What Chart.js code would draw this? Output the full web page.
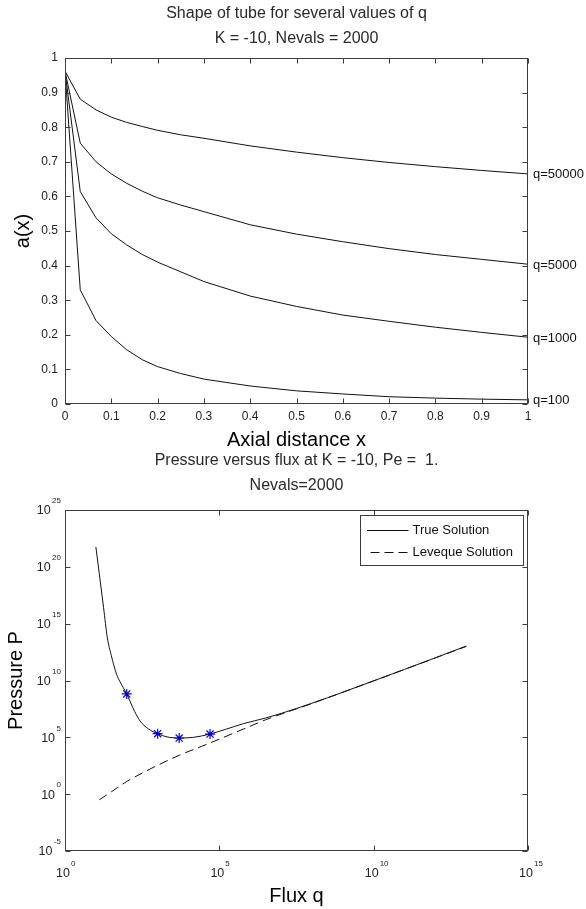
<!DOCTYPE html>
<html><head><meta charset="utf-8">
<script src="https://cdn.jsdelivr.net/npm/chart.js@4"></script>
<style>
html,body{margin:0;padding:0;background:#fff;}
#wrap{position:relative;width:586px;height:909px;overflow:hidden;background:#fff;}
canvas{position:absolute;left:0;top:0;}
</style></head><body>
<div id="wrap"><canvas id="c1" width="586" height="909"></canvas><canvas id="c2" width="586" height="909"></canvas></div>
<script>
// ---------- Top chart: shape of tube ----------
const axialX      = [0, 0.033, 0.067, 0.1, 0.133, 0.167, 0.2, 0.25, 0.3, 0.4, 0.5, 0.6, 0.7, 0.8, 0.9, 1.0];
const shapeQ50000 = [0.962, 0.881, 0.850, 0.829, 0.814, 0.802, 0.791, 0.778, 0.768, 0.746, 0.728, 0.712, 0.698, 0.686, 0.675, 0.665];
const shapeQ5000  = [0.962, 0.754, 0.700, 0.665, 0.638, 0.615, 0.596, 0.575, 0.556, 0.518, 0.491, 0.469, 0.449, 0.432, 0.418, 0.404];
const shapeQ1000  = [0.962, 0.614, 0.538, 0.492, 0.460, 0.432, 0.410, 0.382, 0.354, 0.312, 0.282, 0.257, 0.239, 0.222, 0.207, 0.193];
const shapeQ100   = [0.962, 0.330, 0.241, 0.195, 0.157, 0.128, 0.108, 0.088, 0.072, 0.052, 0.038, 0.029, 0.021, 0.017, 0.014, 0.012];
const shapeNames  = ['q=50000', 'q=5000', 'q=1000', 'q=100'];
const axialTicks      = [0, 0.1, 0.2, 0.3, 0.4, 0.5, 0.6, 0.7, 0.8, 0.9, 1];
const axialTickLabels = ['0', '0.1', '0.2', '0.3', '0.4', '0.5', '0.6', '0.7', '0.8', '0.9', '1'];
const radiusTicks      = [0, 0.1, 0.2, 0.3, 0.4, 0.5, 0.6, 0.7, 0.8, 0.9, 1];
const radiusTickLabels = ['0', '0.1', '0.2', '0.3', '0.4', '0.5', '0.6', '0.7', '0.8', '0.9', '1'];

// ---------- Bottom chart: pressure versus flux ----------
const fluxTrue     = [1.0e1, 1.29e1, 1.78e1, 2.34e1, 3.16e1, 4.68e1, 6.03e1, 1.0e2, 1.58e2, 2.69e2, 5.01e2, 1.0e3, 2.0e3, 5.0e3, 1.45e4, 5.0e4, 1.58e5, 6.03e5, 3.16e6, 1.0e7, 1.0e8, 1.0e9, 1.0e10, 1.0e11, 1.0e12, 1.0e13];
const pressureTrue = [5.6e21, 2.5e19, 2.5e16, 6.3e13, 1.6e12, 3.5e10, 7.9e9, 6.6e8, 4.0e7, 2.8e6, 5.6e5, 2.1e5, 1.1e5, 8.7e4, 1.0e5, 1.95e5, 5.0e5, 1.6e6, 5.0e6, 1.26e7, 1.0e8, 9.3e8, 9.3e9, 9.5e10, 1.0e12, 1.07e13];
const fluxLeveque     = [1.29e1, 3.16e1, 1.0e2, 3.16e2, 1.0e3, 5.0e3, 5.0e4, 6.3e5, 3.16e6, 1.0e8, 1.0e10, 1.0e13];
const pressureLeveque = [3.2e-1, 1.6e0, 1.3e1, 7.1e1, 3.5e2, 2.6e3, 3.2e4, 5.6e5, 3.5e6, 9.5e7, 9.3e9, 1.0e13];
const fluxMarked     = [1.0e2, 1.0e3, 5.0e3, 5.0e4];
const pressureMarked = [6.6e8, 2.1e5, 8.7e4, 1.95e5];
const fluxTicks        = [1e0, 1e5, 1e10, 1e15];
const fluxTickExps     = ['0', '5', '10', '15'];
const pressureTicks    = [1e-5, 1e0, 1e5, 1e10, 1e15, 1e20, 1e25];
const pressureTickExps = ['-5', '0', '5', '10', '15', '20', '25'];

const FONT = '"Liberation Sans", Arial, Helvetica, sans-serif';
Chart.defaults.font.family = FONT;
Chart.defaults.color = '#222';

function boxPlugin(tickLen) {
  return {
    id: 'matlabBox',
    afterDatasetsDraw(chart) {
      const {ctx, chartArea: a, scales: {x, y}} = chart;
      const L = Math.round(a.left) + 0.5, R = Math.round(a.right) - 0.5;
      const T = Math.round(a.top) + 0.5, B = Math.round(a.bottom) - 0.5;
      ctx.save();
      ctx.strokeStyle = '#3c3c3c';
      ctx.lineWidth = 1;
      ctx.beginPath();
      x.ticks.forEach(t => {
        const px = Math.round(x.getPixelForValue(t.value)) + 0.5;
        ctx.moveTo(px, B); ctx.lineTo(px, B - tickLen);
        ctx.moveTo(px, T); ctx.lineTo(px, T + tickLen);
      });
      y.ticks.forEach(t => {
        const py = Math.round(y.getPixelForValue(t.value)) + 0.5;
        ctx.moveTo(L, py); ctx.lineTo(L + tickLen, py);
        ctx.moveTo(R, py); ctx.lineTo(R - tickLen, py);
      });
      ctx.stroke();
      ctx.strokeRect(L, T, R - L, B - T);
      ctx.restore();
    }
  };
}

const endLabels = {
  id: 'endLabels',
  afterDatasetsDraw(chart) {
    const {ctx, scales: {x, y}} = chart;
    ctx.save();
    ctx.font = '13px ' + FONT;
    ctx.fillStyle = '#111';
    ctx.textAlign = 'left';
    ctx.textBaseline = 'middle';
    chart.data.datasets.forEach(ds => {
      const last = ds.data[ds.data.length - 1];
      ctx.fillText(ds.label, x.getPixelForValue(last.x) + 5, y.getPixelForValue(last.y) + 1);
    });
    ctx.restore();
  }
};

const shapeSeries = [shapeQ50000, shapeQ5000, shapeQ1000, shapeQ100];
new Chart(document.getElementById('c1'), {
  type: 'line',
  data: {
    datasets: shapeSeries.map((s, i) => ({
      label: shapeNames[i],
      data: axialX.map((xv, j) => ({x: xv, y: s[j]})),
      borderColor: '#111',
      borderWidth: 1,
      pointRadius: 0,
      tension: 0,
      fill: false
    }))
  },
  options: {
    responsive: false, animation: false, devicePixelRatio: 1,
    layout: {padding: {top: 0, left: 0, right: 58, bottom: 457}},
    plugins: {
      legend: {display: false}, tooltip: {enabled: false},
      title: {display: true, fullSize: false, text: ['Shape of tube for several values of q', 'K = -10, Nevals = 2000'],
        font: {size: 16, weight: 'normal', lineHeight: '25px'}, color: '#2a2a2a', padding: {top: 1.5, bottom: 6.5}}
    },
    scales: {
      x: {
        type: 'linear', min: 0, max: 1,
        afterBuildTicks: s => { s.ticks = axialTicks.map(v => ({value: v})); },
        afterFit: s => { s.height = 48; },
        grid: {display: false, drawTicks: false}, border: {display: false},
        ticks: {callback: (v, i) => axialTickLabels[i], font: {size: 12}, padding: 5, maxRotation: 0, autoSkip: false, color: '#222'},
        title: {display: true, text: 'Axial distance x', font: {size: 20}, color: '#000', padding: {top: 0, bottom: 0}}
      },
      y: {
        type: 'linear', min: 0, max: 1,
        afterBuildTicks: s => { s.ticks = radiusTicks.map(v => ({value: v})); },
        afterFit: s => { s.width = 65; },
        grid: {display: false, drawTicks: false}, border: {display: false},
        ticks: {callback: (v, i) => radiusTickLabels[i], font: {size: 12}, padding: 7, autoSkip: false, color: '#222'},
        title: {display: true, text: 'a(x)', font: {size: 20}, color: '#000', padding: {top: 11, bottom: 0}}
      }
    }
  },
  plugins: [boxPlugin(5), endLabels]
});

const logLabels = {
  id: 'logLabels',
  afterDraw(chart) {
    const {ctx, scales: {x, y}} = chart;
    ctx.save();
    ctx.fillStyle = '#222';
    ctx.textBaseline = 'middle';
    x.ticks.forEach((t, i) => {
      const px = x.getPixelForValue(t.value);
      ctx.font = '12.5px ' + FONT; ctx.textAlign = 'center';
      ctx.fillText('10', px - 2, x.top + 23);
      ctx.font = '8px ' + FONT; ctx.textAlign = 'left';
      ctx.fillText(fluxTickExps[i], px + 6, x.top + 13);
    });
    y.ticks.forEach((t, i) => {
      const py = y.getPixelForValue(t.value);
      const right = y.right - 4;
      ctx.font = '8px ' + FONT; ctx.textAlign = 'right';
      const ew = ctx.measureText(pressureTickExps[i]).width;
      ctx.fillText(pressureTickExps[i], right, py - 9);
      ctx.font = '12.5px ' + FONT;
      ctx.fillText('10', right - ew - 1.5, py + 1);
    });
    ctx.restore();
  }
};

const legendBox = {
  id: 'legendBox',
  afterDraw(chart) {
    const {ctx, chartArea: a} = chart;
    const w = 163, h = 50;
    const L = Math.round(a.right - 5 - w) + 0.5, T = Math.round(a.top + 5) + 0.5;
    ctx.save();
    ctx.fillStyle = '#fff'; ctx.fillRect(L, T, w, h);
    ctx.strokeStyle = '#3c3c3c'; ctx.lineWidth = 1; ctx.strokeRect(L, T, w, h);
    chart.data.datasets.slice(0, 2).forEach((ds, i) => {
      const yy = Math.round(T + 14.5 + i * 22) + 0.5;
      ctx.beginPath();
      ctx.setLineDash(ds.borderDash || []);
      ctx.strokeStyle = ds.borderColor;
      ctx.moveTo(L + 6.5 + (i ? 3.5 : 0), yy); ctx.lineTo(L + 48, yy);
      ctx.stroke();
      ctx.setLineDash([]);
      ctx.fillStyle = '#111'; ctx.font = '13px ' + FONT;
      ctx.textAlign = 'left'; ctx.textBaseline = 'middle';
      ctx.fillText(ds.label, L + 52, yy);
    });
    ctx.restore();
  }
};

new Chart(document.getElementById('c2'), {
  type: 'line',
  data: {
    datasets: [
      {label: 'True Solution', data: fluxTrue.map((q, j) => ({x: q, y: pressureTrue[j]})),
       borderColor: '#111', borderWidth: 1, pointRadius: 0, cubicInterpolationMode: 'monotone', fill: false},
      {label: 'Leveque Solution', data: fluxLeveque.map((q, j) => ({x: q, y: pressureLeveque[j]})),
       borderColor: '#111', borderWidth: 1, borderDash: [9, 5], pointRadius: 0, cubicInterpolationMode: 'monotone', fill: false},
      {label: 'marked', data: fluxMarked.map((q, j) => ({x: q, y: pressureMarked[j]})),
       showLine: false, pointStyle: 'star', pointRadius: 5, pointBorderWidth: 1.2,
       pointBorderColor: '#0000ff', borderColor: '#0000ff', backgroundColor: '#0000ff'}
    ]
  },
  options: {
    responsive: false, animation: false, devicePixelRatio: 1,
    layout: {padding: {top: 448, left: 0, right: 58, bottom: 0}},
    plugins: {
      legend: {display: false}, tooltip: {enabled: false},
      title: {display: true, fullSize: false, text: ['Pressure versus flux at K = -10, Pe =  1.', 'Nevals=2000'],
        font: {size: 16, weight: 'normal', lineHeight: '25px'}, color: '#2a2a2a', padding: {top: 0.5, bottom: 11.5}}
    },
    scales: {
      x: {
        type: 'logarithmic', min: 1e0, max: 1e15,
        afterBuildTicks: s => { s.ticks = fluxTicks.map(v => ({value: v})); },
        afterFit: s => { s.height = 58; },
        grid: {display: false, drawTicks: false}, border: {display: false},
        ticks: {display: false},
        title: {display: true, text: 'Flux q', font: {size: 20}, color: '#000', padding: {top: 0, bottom: 1}}
      },
      y: {
        type: 'logarithmic', min: 1e-5, max: 1e25,
        afterBuildTicks: s => { s.ticks = pressureTicks.map(v => ({value: v})); },
        afterFit: s => { s.width = 65; },
        grid: {display: false, drawTicks: false}, border: {display: false},
        ticks: {display: false},
        title: {display: true, text: 'Pressure P', font: {size: 20}, color: '#000', padding: {top: 4, bottom: 0}}
      }
    }
  },
  plugins: [boxPlugin(5), logLabels, legendBox]
});
</script>
</body></html>
